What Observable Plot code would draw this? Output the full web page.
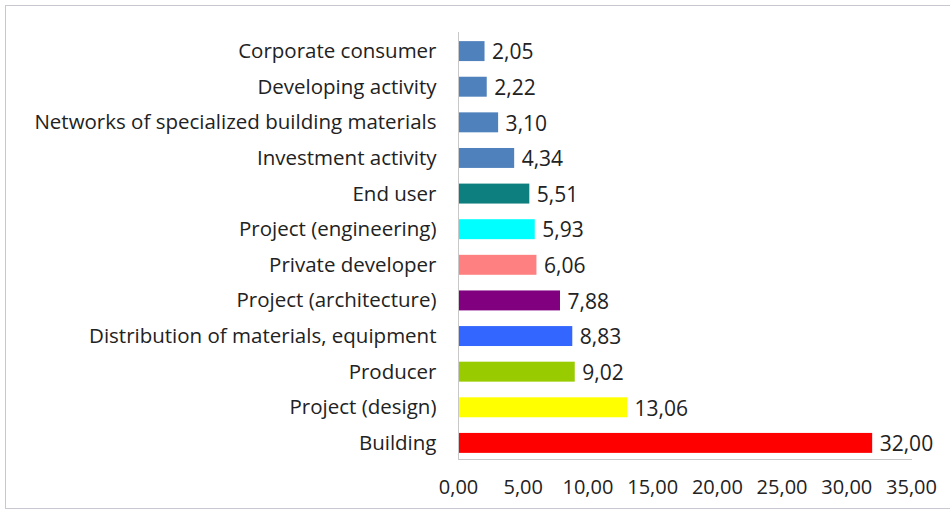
<!DOCTYPE html>
<html>
<head>
<meta charset="utf-8">
<script src="https://cdn.jsdelivr.net/npm/d3@7"></script>
<script src="https://cdn.jsdelivr.net/npm/@observablehq/plot@0.6"></script>
<style>
  html, body { margin: 0; padding: 0; background: #fff; }
  #wrap { position: relative; width: 950px; height: 514px; overflow: hidden; }
  #border { position: absolute; left: 5px; top: 5px; width: 960px; height: 504px; border: 1px solid #c8c8d0; box-sizing: border-box; pointer-events: none; }
  svg { font-family: "Open Sans", sans-serif; }
</style>
</head>
<body>
<div id="wrap"><div id="border"></div></div>
<script>
const categories = [
  "Corporate consumer",
  "Developing activity",
  "Networks of specialized building materials",
  "Investment activity",
  "End user",
  "Project (engineering)",
  "Private developer",
  "Project (architecture)",
  "Distribution of materials, equipment",
  "Producer",
  "Project (design)",
  "Building"
];
const values = [2.05, 2.22, 3.10, 4.34, 5.51, 5.93, 6.06, 7.88, 8.83, 9.02, 13.06, 32.00];
const colors = ["#4f81bd", "#4f81bd", "#4f81bd", "#4f81bd", "#0e7f7f", "#00ffff", "#ff8080", "#800080", "#3366ff", "#99cc00", "#ffff00", "#ff0000"];
const xTicks = [0, 5, 10, 15, 20, 25, 30, 35];

const data = categories.map((c, i) => ({category: c, value: values[i], color: colors[i]}));
const fmt = v => d3.format(".2f")(v).replace(".", ",");

const chart = Plot.plot({
  width: 950,
  height: 514,
  marginLeft: 458,
  marginRight: 39,
  marginTop: 32,
  marginBottom: 55,
  style: {fontFamily: "Open Sans, sans-serif", fontSize: "20px", color: "#222", background: "transparent"},
  x: {domain: [0, 35], ticks: xTicks, tickFormat: fmt, label: null},
  y: {domain: categories, range: [34, 460], round: false, paddingInner: 0.44, paddingOuter: 0.2, label: null},
  marks: [
    Plot.barX(data, {y: "category", x: "value", fill: "color"}),
    Plot.text(data, {y: "category", x: "value", text: d => fmt(d.value), textAnchor: "start", dx: 7, dy: 1, fontSize: 21, fill: "#222"}),
    Plot.frame({anchor: "left", stroke: "#c8c8c8"}),
    Plot.frame({anchor: "bottom", stroke: "#c8c8c8"}),
    Plot.axisY({tickSize: 0, tickPadding: 22, fontSize: 20.5, label: null}),
    Plot.axisX({tickSize: 0, tickPadding: 20, fontSize: 20, label: null, ticks: xTicks, tickFormat: fmt})
  ]
});
document.getElementById("wrap").prepend(chart);
</script>
</body>
</html>
